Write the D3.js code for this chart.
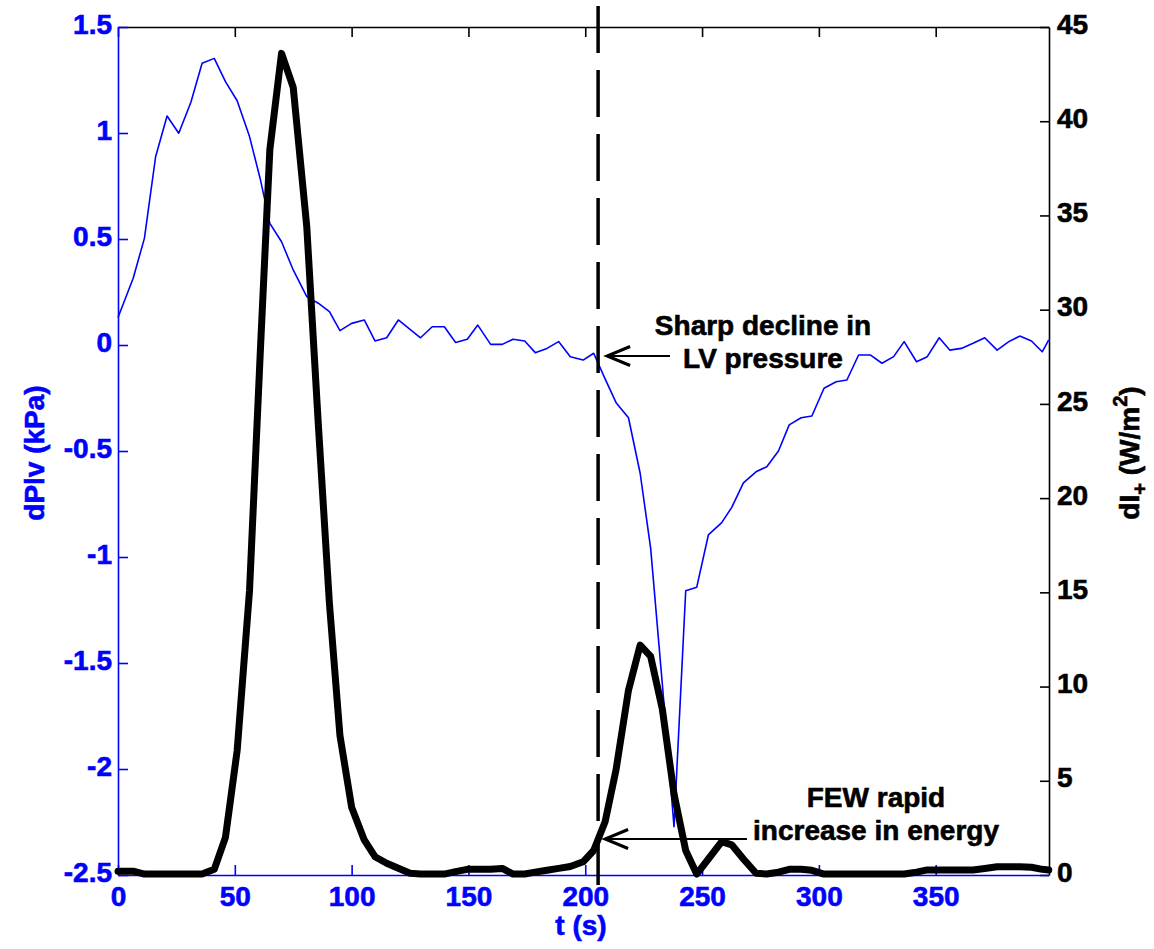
<!DOCTYPE html>
<html><head><meta charset="utf-8">
<script src="https://cdn.jsdelivr.net/npm/d3@7"></script>
<style>
body{margin:0;background:#fff}
text{font-family:"Liberation Sans",Arial,Helvetica,sans-serif;font-weight:bold}
</style>
</head><body>
<svg id="c" width="1154" height="949"></svg>
<script>
// ---- data ----
const time = [0,6.5,11.3,16.1,21,26,31.2,36,41.2,46,
  51,56.3,61,65,70,75,80.8,85.7,90.5,95,
  100,105.4,110,115,120,125,129.5,134.5,139.7,144.5,
  149.5,154,159.5,164.5,169.1,174.1,178.6,183.6,188.6,193.6,
  199.1,203.6,208.5,213.2,218.5,223.5,228,233,238,243,
  247.7,252.7,258.4,262.7,267.7,273.1,277.7,282.7,287.3,292.4,
  297,302.2,307.4,312,317,322,327,332,336.5,341.8,
  346.4,351.5,356,361,366,371,376.3,381.3,386,391,
  395.6,398.4];
const dPlv = [0.13,0.315,0.503,0.888,1.08,0.999,1.145,1.329,1.352,1.242,
  1.152,0.983,0.778,0.574,0.487,0.354,0.228,0.197,0.157,0.068,
  0.102,0.118,0.019,0.034,0.118,0.074,0.034,0.086,0.086,0.012,
  0.027,0.094,0.003,0.003,0.027,0.019,-0.036,-0.016,0.016,-0.055,
  -0.071,-0.039,-0.16,-0.272,-0.343,-0.605,-0.959,-1.6,-2.272,-1.159,
  -1.143,-0.896,-0.838,-0.766,-0.65,-0.598,-0.574,-0.5,-0.377,-0.343,
  -0.335,-0.204,-0.173,-0.165,-0.047,-0.047,-0.086,-0.055,0.016,-0.079,
  -0.055,0.034,-0.024,-0.016,0.008,0.034,-0.024,0.016,0.042,0.019,
  -0.032,0.024];
const dIplus = [0.2,0.2,0.05,0.05,0.05,0.05,0.05,0.05,0.3,2.0,
  6.6,15.1,28,38.5,43.6,41.8,34.4,24,14.4,7.4,
  3.6,1.86,0.97,0.62,0.36,0.09,0.05,0.05,0.05,0.18,
  0.3,0.3,0.3,0.35,0.05,0.05,0.15,0.25,0.35,0.45,
  0.7,1.3,2.83,5.6,9.8,12.2,11.6,8.8,4.3,1.3,
  0.05,0.85,1.77,1.6,0.85,0.09,0.05,0.15,0.3,0.3,
  0.25,0.05,0.05,0.05,0.05,0.05,0.05,0.05,0.05,0.15,
  0.27,0.27,0.27,0.27,0.27,0.35,0.44,0.44,0.44,0.41,
  0.3,0.27];
const xTicks = [0,50,100,150,200,250,300,350];
const leftTicks = [-2.5,-2,-1.5,-1,-0.5,0,0.5,1,1.5];
const rightTicks = [0,5,10,15,20,25,30,35,40,45];
const eventTime = 205.5;
const noteTop = ["Sharp decline in","LV pressure"];
const noteBottom = ["FEW rapid","increase in energy"];

// ---- layout ----
const L=118, R=1049, T=27, B=875;
const BLUE="#0000ff";
const svg=d3.select("#c");
const x=d3.scaleLinear().domain([0,398.5]).range([L,R]);
const yL=d3.scaleLinear().domain([-2.5,1.5]).range([B,T]);
const yR=d3.scaleLinear().domain([0,45]).range([B,T]);
const fmt=d=>String(d);
const heavy=(sel,c)=>sel.attr("fill",c).attr("stroke",c).attr("stroke-width",0.6);

// top axis (black, ticks only)
const gTop=svg.append("g").attr("transform",`translate(0,${T})`)
  .call(d3.axisTop(x).tickValues(xTicks).tickSizeInner(-10).tickSizeOuter(0).tickFormat(""));
gTop.selectAll("path,line").attr("stroke","#000").attr("stroke-width",1.6);

// right axis (black)
const gR=svg.append("g").attr("transform",`translate(${R},0)`)
  .call(d3.axisRight(yR).tickValues(rightTicks).tickSizeInner(-9).tickSizeOuter(0).tickPadding(8).tickFormat(fmt));
gR.selectAll("path,line").attr("stroke","#000").attr("stroke-width",1.6);
heavy(gR.selectAll("text").attr("font-size",28).attr("dy","0.22em"),"#000");

// left axis (blue)
const gL=svg.append("g").attr("transform",`translate(${L},0)`)
  .call(d3.axisLeft(yL).tickValues(leftTicks).tickSizeInner(-10).tickSizeOuter(0).tickPadding(6).tickFormat(fmt));
gL.selectAll("path,line").attr("stroke",BLUE).attr("stroke-width",1.6);
heavy(gL.selectAll("text").attr("font-size",28).attr("dy","0.22em"),BLUE);

// bottom axis (blue)
const gB=svg.append("g").attr("transform",`translate(0,${B})`)
  .call(d3.axisBottom(x).tickValues(xTicks).tickSizeInner(-10).tickSizeOuter(0).tickPadding(11).tickFormat(fmt));
gB.selectAll("path,line").attr("stroke",BLUE).attr("stroke-width",1.6);
heavy(gB.selectAll("text").attr("font-size",28),BLUE);

// blue series
const pts=time.map((t,i)=>({t,p:dPlv[i],e:dIplus[i]}));
svg.append("path").datum(pts)
  .attr("fill","none").attr("stroke",BLUE).attr("stroke-width",1.6).attr("stroke-linejoin","round")
  .attr("d",d3.line().x(d=>x(d.t)).y(d=>yL(d.p)));

// black series
svg.append("path").datum(pts)
  .attr("fill","none").attr("stroke","#000").attr("stroke-width",7).attr("stroke-linejoin","round").attr("stroke-linecap","round")
  .attr("d",d3.line().x(d=>x(d.t)).y(d=>yR(d.e)));

// dashed event line
svg.append("line").attr("x1",x(eventTime)).attr("x2",x(eventTime)).attr("y1",6).attr("y2",885)
  .attr("stroke","#000").attr("stroke-width",3.5).attr("stroke-dasharray","47,17");

// axis labels
heavy(svg.append("text").attr("x",581).attr("y",935).attr("text-anchor","middle")
  .attr("font-size",28).text("t (s)"),BLUE);
heavy(svg.append("text").attr("transform","translate(44,453) rotate(-90)").attr("text-anchor","middle")
  .attr("font-size",28).text("dPlv (kPa)"),BLUE);
const rl=heavy(svg.append("text").attr("transform","translate(1139,453) rotate(-90)").attr("text-anchor","middle")
  .attr("font-size",28),"#000");
rl.append("tspan").text("dI");
rl.append("tspan").attr("font-size",20).attr("dy",8).text("+");
rl.append("tspan").attr("dy",-8).text(" (W/m");
rl.append("tspan").attr("font-size",20).attr("dy",-12).text("2");
rl.append("tspan").attr("dy",12).text(")");

// annotations
function arrow(xFrom,xTip,y){
  svg.append("line").attr("x1",xFrom).attr("x2",xTip+2).attr("y1",y).attr("y2",y)
    .attr("stroke","#000").attr("stroke-width",2);
  svg.append("path").attr("d",`M${xTip+23},${y-9.5} L${xTip},${y} L${xTip+23},${y+9.5}`)
    .attr("fill","none").attr("stroke","#000").attr("stroke-width",3).attr("stroke-linejoin","miter");
}
const tipX=x(eventTime)+9;
arrow(670,tipX,356);
noteTop.forEach((s,i)=>heavy(svg.append("text").attr("x",763).attr("y",335+33*i).attr("text-anchor","middle")
  .attr("font-size",28).text(s),"#000"));
arrow(747,x(eventTime)+7,839);
noteBottom.forEach((s,i)=>heavy(svg.append("text").attr("x",876).attr("y",807+33*i).attr("text-anchor","middle")
  .attr("font-size",28).text(s),"#000"));
</script>
</body></html>
